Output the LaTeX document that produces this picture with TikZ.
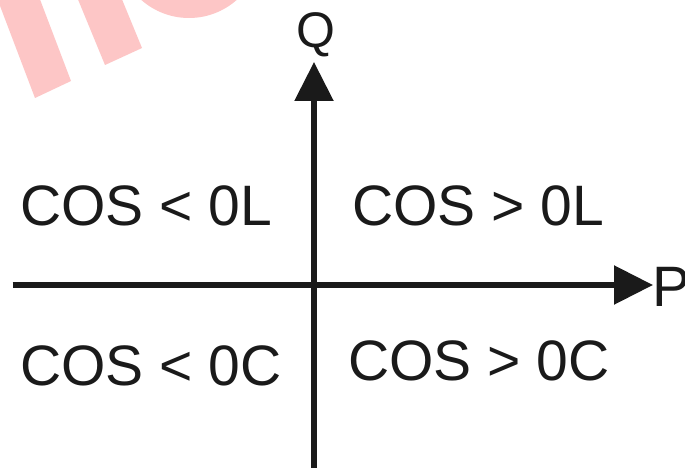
\documentclass[tikz,border=0pt]{standalone}
\usepackage{fontspec}
\setmainfont{Liberation Sans}
\usetikzlibrary{arrows.meta}
\definecolor{wmpink}{RGB}{253,198,198}
\definecolor{axisblack}{RGB}{26,26,26}
\tikzset{
  axisline/.style={draw=axisblack, line width=5.5pt, -{Triangle[length=39pt,width=38pt]}},
  quadlabel/.style={anchor=base west, inner sep=0pt, text=axisblack, font=\fontsize{57pt}{60pt}\selectfont},
  axislabel/.style={inner sep=0pt, text=axisblack},
  watermark/.style={fill=wmpink, draw=none}
}
\begin{document}
\begin{tikzpicture}[x=1pt, y=-1pt]
  \useasboundingbox (0,0) rectangle (685,468);
  \fill[white] (0,0) rectangle (685,468);
  % watermark remnants
  \begin{scope}
    \clip (0,0) rectangle (685,468);
    \path[watermark] (35,98) -- (71,81) -- (32.6,-20) -- (-9.8,-20) -- cycle;
    \path[watermark] (105,65) -- (142,48) -- (114,-20) -- (70,-20) -- cycle;
    \path[watermark] (189,-54) circle[radius=72];
  \end{scope}
  % axes
  \coordinate (O) at (314,285);
  \coordinate (qtip) at (314,62);
  \coordinate (qbase) at (314,468);
  \coordinate (pstart) at (12.7,285);
  \coordinate (ptip) at (653,285);
  \draw[axisline] (qbase) -- (qtip);
  \draw[axisline] (pstart) -- (ptip);
  % axis labels
  \node[axislabel, anchor=base, font=\fontsize{50pt}{52pt}\selectfont] (Q) at (316.4,48) {Q};
  \node[axislabel, anchor=base west, font=\fontsize{57pt}{60pt}\selectfont] (P) at (652.3,306.7) {P};
  % quadrant labels
  \node[quadlabel] (q2) at (19.9,225) {COS < 0L};
  \node[quadlabel] (q1) at (352.2,225) {COS > 0L};
  \node[quadlabel] (q3) at (19.9,385) {COS < 0C};
  \node[quadlabel] (q4) at (347.9,380) {COS > 0C};
\end{tikzpicture}
\end{document}
